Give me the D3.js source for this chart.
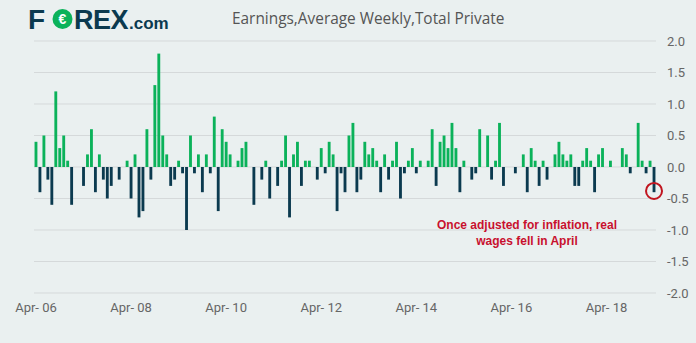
<!DOCTYPE html>
<html>
<head>
<meta charset="utf-8">
<script src="https://cdn.jsdelivr.net/npm/d3@7"></script>
<style>
  html, body { margin: 0; padding: 0; background: #eaf0f0; }
  svg { display: block; }
</style>
</head>
<body>
<svg id="chart"></svg>
<script>
// monthly change, Apr 2006 .. Apr 2019
const startMonth = new Date(2006, 3, 1);
const changes = [
  0.4, -0.4, 0.5, -0.2, -0.6, 1.2, 0.3, 0.5, 0.1, -0.6,
  0, 0, -0.3, 0.2, 0.6, -0.4, 0.2, -0.2, -0.5, -0.3,
  0, -0.2, 0, 0.1, -0.5, 0.2, -0.8, -0.7, 0.6, -0.2,
  1.3, 1.8, 0.5, 0.2, -0.3, -0.2, 0.1, -0.1, -1.0, 0.5,
  -0.1, 0.2, -0.4, 0.2, -0.1, 0.8, -0.7, 0.6, 0.4, 0.2,
  0, 0.1, 0.3, 0.4, 0, -0.6, 0, -0.2, 0.1, -0.5,
  0, -0.3, 0.1, 0.5, -0.8, 0.2, 0.4, -0.3, 0.1, 0.1,
  0, -0.2, 0.3, -0.1, 0.4, 0.2, -0.7, -0.1, -0.4, 0.5,
  0.7, -0.4, -0.2, 0.4, 0.2, 0.3, 0.1, -0.4, 0.2, -0.2,
  0.1, 0.4, -0.5, -0.1, 0.1, 0.3, -0.1, 0.1, 0, 0.1,
  0.6, -0.3, 0.4, 0.5, 0.3, 0.7, 0.3, -0.4, 0.1, 0,
  -0.2, -0.1, 0.6, 0, 0.5, -0.2, 0.1, 0.7, -0.3, 0,
  0, -0.1, 0, 0.2, -0.4, 0.3, 0.1, -0.3, 0.1, -0.2,
  0, 0.2, 0.4, 0.2, 0.1, 0.2, -0.3, -0.3, 0.1, 0.3,
  0.1, -0.4, 0.2, 0.3, 0, 0.1, 0, 0, 0.3, 0.2,
  -0.1, 0, 0.7, 0.1, -0.1, 0.1, -0.4
];
const yTicks = [2.0, 1.5, 1.0, 0.5, 0.0, -0.5, -1.0, -1.5, -2.0];
const xTickYears = [2006, 2008, 2010, 2012, 2014, 2016, 2018];
const titleText = "Earnings,Average Weekly,Total Private";
const noteLines = ["Once adjusted for inflation, real", "wages fell in April"];

const months = d3.timeMonth.range(startMonth, d3.timeMonth.offset(startMonth, changes.length));
const data = months.map((m, i) => ({ month: m, value: changes[i] }));

let chart = {
    width: 696,
    height: 343,
    left: 34,
    right: 656,
    top: 41,
    bottom: 293,
    green: '#0bb25a',
    navy: '#0b3a4f',
    grid: '#d5d9da',
    labelColor: '#666',
    font: 'Roboto, "Open Sans", sans-serif',
    xScale: null,
    yScale: null,

    drawLogo: (svg) => {
        let g = svg.append('g')
        g.append('text')
            .attr('x', 28).attr('y', 29)
            .text('F')
            .attr('font-family', '"Liberation Sans", Arial, sans-serif')
            .attr('font-weight', 'bold')
            .attr('font-size', 28)
            .attr('fill', chart.navy)
        g.append('circle')
            .attr('cx', 62.5).attr('cy', 19)
            .attr('r', 10)
            .attr('fill', chart.green)
        g.append('text')
            .attr('x', 62.5).attr('y', 24)
            .text('€')
            .attr('text-anchor', 'middle')
            .attr('font-family', '"Liberation Sans", Arial, sans-serif')
            .attr('font-weight', 'bold')
            .attr('font-size', 14)
            .attr('fill', '#fff')
        g.append('text')
            .attr('x', 74).attr('y', 29)
            .text('REX')
            .attr('font-family', '"Liberation Sans", Arial, sans-serif')
            .attr('font-weight', 'bold')
            .attr('font-size', 27)
            .attr('letter-spacing', -0.5)
            .attr('fill', chart.navy)
        g.append('text')
            .attr('x', 129).attr('y', 29)
            .text('.com')
            .attr('font-family', '"Liberation Sans", Arial, sans-serif')
            .attr('font-weight', 'bold')
            .attr('font-size', 17)
            .attr('fill', chart.navy)
    },

    drawTitle: (svg) => {
        svg.append('text')
            .attr('x', 232).attr('y', 24)
            .text(titleText)
            .attr('font-family', '"Open Sans", sans-serif')
            .attr('font-size', 15.4)
            .attr('fill', '#555')
    },

    drawAxis: (svg) => {
        chart.xScale = d3.scaleBand()
            .domain(months)
            .range([chart.left, chart.right])
            .paddingInner(0.28)
            .paddingOuter(0.14)
        chart.yScale = d3.scaleLinear()
            .domain([-2, 2])
            .range([chart.bottom, chart.top])

        // horizontal grid
        svg.append('g')
            .selectAll('line')
            .data(yTicks)
            .enter()
            .append('line')
            .attr('x1', chart.left)
            .attr('x2', chart.right)
            .attr('y1', d => chart.yScale(d))
            .attr('y2', d => chart.yScale(d))
            .attr('stroke', chart.grid)
            .attr('stroke-width', 1)

        // y labels on the right
        let yAxis = d3.axisRight(chart.yScale)
            .tickValues(yTicks)
            .tickSize(0)
            .tickPadding(0)
            .tickFormat(d => d3.format('.1f')(d).replace('−', '-'))
        let gy = svg.append('g')
            .attr('transform', `translate(667, 0)`)
            .call(yAxis)
        gy.select('.domain').remove()
        gy.selectAll('text')
            .attr('font-family', chart.font)
            .attr('font-size', 13)
            .attr('fill', chart.labelColor)

        // x labels, every other April
        let tickMonths = months.filter(m => m.getMonth() === 3 && xTickYears.includes(m.getFullYear()))
        let xAxis = d3.axisBottom(chart.xScale)
            .tickValues(tickMonths)
            .tickSize(0)
            .tickPadding(10)
            .tickFormat(d => 'Apr- ' + d3.timeFormat('%y')(d))
        let gx = svg.append('g')
            .attr('transform', `translate(0, ${chart.bottom})`)
            .call(xAxis)
        gx.select('.domain').remove()
        gx.selectAll('text')
            .attr('font-family', chart.font)
            .attr('font-size', 13)
            .attr('fill', chart.labelColor)
    },

    drawBars: (svg) => {
        let y0 = chart.yScale(0)
        svg.append('g')
            .selectAll('rect')
            .data(data.filter(d => d.value !== 0))
            .enter()
            .append('rect')
            .attr('x', d => chart.xScale(d.month))
            .attr('width', chart.xScale.bandwidth())
            .attr('y', d => Math.min(y0, chart.yScale(d.value)))
            .attr('height', d => Math.abs(chart.yScale(d.value) - y0))
            .attr('fill', d => d.value > 0 ? chart.green : chart.navy)
    },

    drawNote: (svg) => {
        let last = data[data.length - 1]
        svg.append('circle')
            .attr('cx', chart.xScale(last.month) + chart.xScale.bandwidth() / 2)
            .attr('cy', chart.yScale(last.value * 0.95))
            .attr('r', 8)
            .attr('fill', 'none')
            .attr('stroke', '#c0151f')
            .attr('stroke-width', 2)
        svg.append('g')
            .selectAll('text')
            .data(noteLines)
            .enter()
            .append('text')
            .attr('x', 527)
            .attr('y', (d, i) => 229 + i * 16)
            .attr('text-anchor', 'middle')
            .text(d => d)
            .attr('font-family', '"Liberation Sans", Arial, sans-serif')
            .attr('font-weight', 'bold')
            .attr('font-size', 12)
            .attr('fill', '#c8102e')
    },

    drawMain: () => {
        let svg = d3.select('#chart')
            .attr('width', chart.width)
            .attr('height', chart.height)
        svg.append('rect')
            .attr('width', chart.width)
            .attr('height', chart.height)
            .attr('fill', '#eaf0f0')
        chart.drawLogo(svg)
        chart.drawTitle(svg)
        chart.drawAxis(svg)
        chart.drawBars(svg)
        chart.drawNote(svg)
    }
}
chart.drawMain();
</script>
</body>
</html>
